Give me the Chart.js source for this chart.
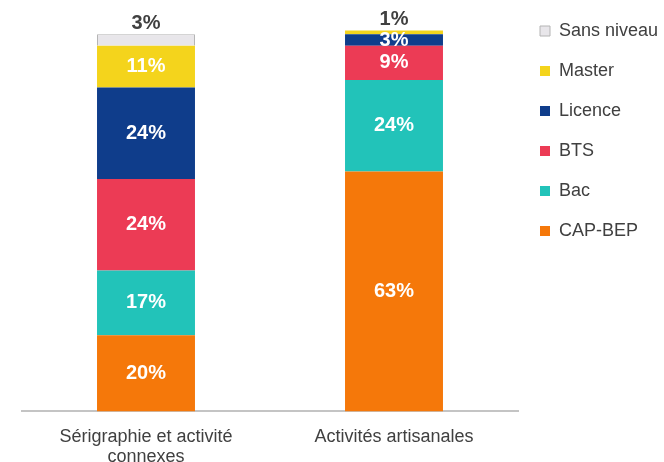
<!DOCTYPE html>
<html>
<head>
<meta charset="utf-8">
<script src="https://cdn.jsdelivr.net/npm/chart.js@4/dist/chart.umd.min.js"></script>
<style>
  html, body { margin: 0; padding: 0; background: #fff; }
  #wrap { width: 664px; height: 462px; }
</style>
</head>
<body>
<div id="wrap"><canvas id="niveauChart"></canvas></div>
<script>
// Répartition par niveau de diplôme (en %)
const categories = [['Sérigraphie et activité', 'connexes'], 'Activités artisanales'];
const niveaux = ['CAP-BEP', 'Bac', 'BTS', 'Licence', 'Master', 'Sans niveau'];
const capBep = [20, 63];
const bac = [17, 24];
const bts = [24, 9];
const licence = [24, 3];
const master = [11, 1];
const sansNiveau = [3, 0];
const couleurs = ['#f5780a', '#22c3b9', '#ec3b55', '#0f3d8b', '#f4d41c', '#e8e6ea'];

const series = [capBep, bac, bts, licence, master, sansNiveau];

// Étiquettes de pourcentage : dans le segment, ou au-dessus pour le segment du haut
const etiquettes = {
    id: 'etiquettes',
    afterDatasetsDraw(chart) {
        const ctx = chart.ctx;
        ctx.save();
        ctx.font = 'bold 20px "Liberation Sans", Arial, sans-serif';
        ctx.textAlign = 'center';
        ctx.textBaseline = 'middle';
        const n = chart.data.labels.length;
        for (let i = 0; i < n; i++) {
            // dernier segment non nul de la pile
            let haut = -1;
            chart.data.datasets.forEach((ds, d) => { if (ds.data[i] > 0) haut = d; });
            chart.data.datasets.forEach((ds, d) => {
                const v = ds.data[i];
                if (!v) return;
                const el = chart.getDatasetMeta(d).data[i];
                if (d === haut && v <= 3) {
                    ctx.fillStyle = '#404040';
                    ctx.fillText(v + '%', el.x, el.y - 11);
                } else {
                    ctx.fillStyle = '#ffffff';
                    ctx.fillText(v + '%', el.x, (el.y + el.base) / 2);
                }
            });
        }
        ctx.restore();
    }
};

new Chart(document.getElementById('niveauChart'), {
    type: 'bar',
    data: {
        labels: categories,
        datasets: niveaux.map((nom, k) => ({
            label: nom,
            data: series[k],
            backgroundColor: couleurs[k],
            borderColor: k === 5 ? '#b4b4b4' : couleurs[k],
            borderWidth: k === 5 ? 1 : 0,
            categoryPercentage: 1,
            barPercentage: 0.395
        }))
    },
    options: {
        responsive: true,
        maintainAspectRatio: false,
        animation: false,
        layout: { padding: { left: 22, top: 0, right: 0, bottom: -13 } },
        scales: {
            x: {
                stacked: true,
                grid: { display: false },
                border: { display: true, color: '#c4c4c4', width: 2 },
                ticks: {
                    color: '#404040',
                    padding: 8,
                    font: { family: '"Liberation Sans", Arial, sans-serif', size: 18, lineHeight: 1.1 }
                }
            },
            y: {
                stacked: true,
                display: false,
                min: 0,
                max: 108
            }
        },
        plugins: {
            legend: {
                position: 'right',
                align: 'start',
                reverse: true,
                maxWidth: 146,
                labels: {
                    boxWidth: 10,
                    boxHeight: 10,
                    padding: 22,
                    color: '#404040',
                    font: { family: '"Liberation Sans", Arial, sans-serif', size: 18 }
                }
            },
            tooltip: { enabled: false }
        }
    },
    plugins: [etiquettes]
});
</script>
</body>
</html>
